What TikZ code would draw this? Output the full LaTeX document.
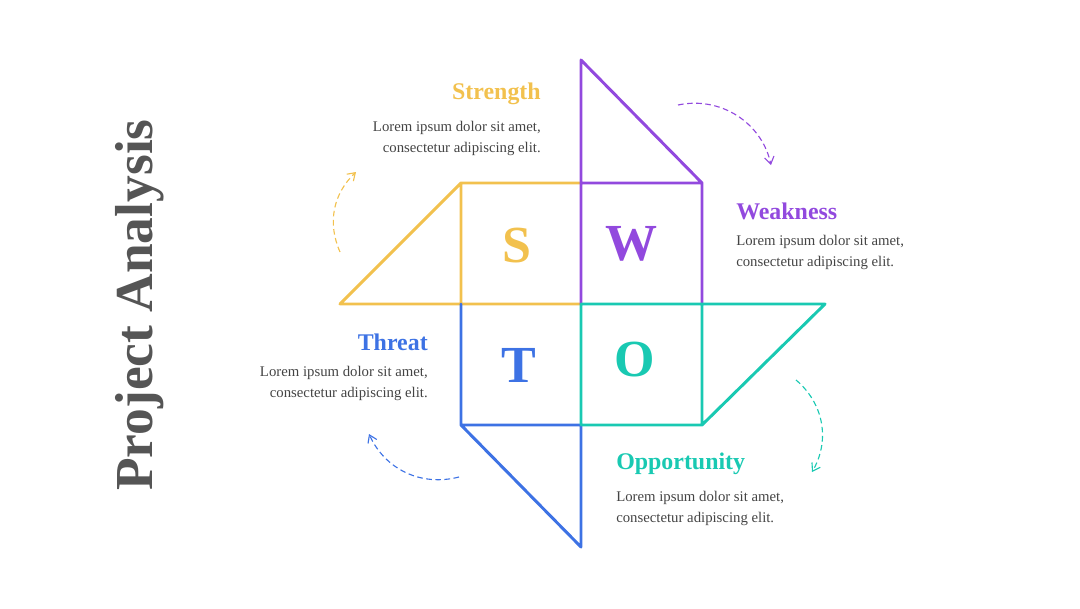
\documentclass[tikz,border=0pt]{standalone}
\usepackage{fontspec}
\setmainfont{Liberation Serif}
\usepackage{xcolor}
\usepackage{tikz}
\usetikzlibrary{arrows.meta,positioning}
\definecolor{swotyel}{HTML}{F2C14E}
\definecolor{swotpur}{HTML}{9249DE}
\definecolor{swotteal}{HTML}{19C9B2}
\definecolor{swotblue}{HTML}{3D72E4}
\definecolor{bodygray}{HTML}{444444}
\definecolor{titlegray}{HTML}{555555}

\begin{document}
\begin{tikzpicture}[x=0.025cm, y=-0.025cm, every node/.style={inner sep=0pt},
    side/.style={line width=2.1pt, line cap=round, line join=round},
    letter/.style={font=\fontsize{37}{37}\selectfont\bfseries},
    head/.style={font=\fontsize{17}{19}\selectfont\bfseries},
    body/.style={font=\fontsize{10.5}{15}\selectfont, text=bodygray},
    turn/.style={dash pattern=on 4pt off 2.5pt, line width=0.8pt, -{Straight Barb[length=1.8mm, width=2.4mm]}}]
    \useasboundingbox (0,0) rectangle (1080,608);

    % the four pieces
    \draw[side, swotyel] (581,304) -- (340,304) -- (461,183) -- (581,183) (461,183) -- (461,304);
    \draw[side, swotpur] (581,304) -- (581,60) -- (702,183) -- (702,304) (581,183) -- (702,183);
    \draw[side, swotblue] (461,304) -- (461,425) -- (581,547) -- (581,425) (461,425) -- (581,425);
    \draw[side, swotteal] (581,304) -- (825,304) -- (702,425) -- (581,425) -- cycle (702,304) -- (702,425);

    \node[letter, text=swotyel] (sletter) at (517,246) {S};
    \node[letter, text=swotpur] (wletter) at (632,244) {W};
    \node[letter, text=swotblue] (tletter) at (519,365) {T};
    \node[letter, text=swotteal] (oletter) at (635,360) {O};

    \node[rotate=90, font=\fontsize{38}{38}\selectfont\bfseries, text=titlegray] (title) at (140,305) {Project Analysis};

    \node[head, text=swotyel, anchor=east] (strhead) at (541,94) {Strength};
    \node[body, align=right, below=11pt of strhead.south east, anchor=north east] (strtext) {Lorem ipsum dolor sit amet,\\consectetur adipiscing elit.};
    \node[head, text=swotpur, anchor=west] (weakhead) at (736,211) {Weakness};
    \node[body, align=left, below=11pt of weakhead.south west, anchor=north west] (weaktext) {Lorem ipsum dolor sit amet,\\consectetur adipiscing elit.};
    \node[head, text=swotblue, anchor=east] (thrhead) at (428,342) {Threat};
    \node[body, align=right, below=11pt of thrhead.south east, anchor=north east] (thrtext) {Lorem ipsum dolor sit amet,\\consectetur adipiscing elit.};
    \node[head, text=swotteal, anchor=west] (opphead) at (616,464) {Opportunity};
    \node[body, align=left, below=11pt of opphead.south west, anchor=north west] (opptext) {Lorem ipsum dolor sit amet,\\consectetur adipiscing elit.};

    % dashed turns
    \coordinate (yelstart) at (340,252);
    \coordinate (yelend) at (356,172);
    \coordinate (purstart) at (678,105);
    \coordinate (purend) at (771,165);
    \coordinate (tealstart) at (796,380);
    \coordinate (tealend) at (812,472);
    \coordinate (bluestart) at (459,477);
    \coordinate (blueend) at (369,434);
    \draw[turn, swotyel] (yelstart) to[bend left=35] (yelend);
    \draw[turn, swotpur] (purstart) to[bend left=45] (purend);
    \draw[turn, swotteal] (tealstart) to[bend left=40] (tealend);
    \draw[turn, swotblue] (bluestart) to[bend left=40] (blueend);
\end{tikzpicture}
\end{document}
